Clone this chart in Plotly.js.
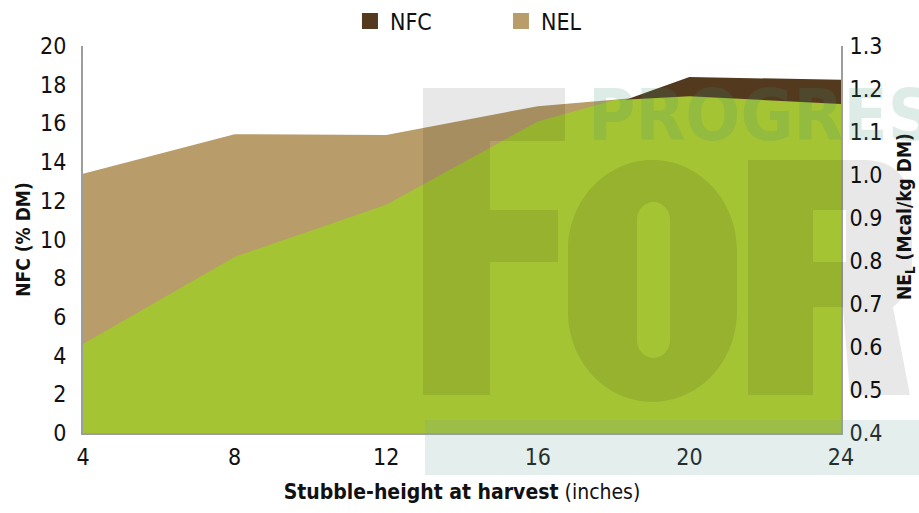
<!DOCTYPE html>
<html>
<head>
<meta charset="utf-8">
<script src="https://cdn.plot.ly/plotly-3.0.1.min.js"></script>
<style>
  html, body { margin: 0; padding: 0; background: #ffffff; }
  #chart { width: 919px; height: 513px; }
</style>
</head>
<body>
<div id="chart"></div>
<script>
// ---- data ----
const heights = [4, 8, 12, 16, 20, 24];                 // stubble height (inches)
const nfcValues = [4.0, 8.5, 11.3, 15.6, 18.4, 18.25];  // NFC (% DM)
const nelValues = [1.003, 1.095, 1.093, 1.16, 1.19, 1.19]; // NEL (Mcal/kg DM)
const greenHeights = [4, 8, 12, 16, 18, 20, 24];
const greenValues = [4.6, 9.1, 11.8, 16.1, 17.2, 17.4, 17.0];
const xTicks = [4, 8, 12, 16, 20, 24];
const nfcTicks = [0, 2, 4, 6, 8, 10, 12, 14, 16, 18, 20];
const nelTicks = [0.4, 0.5, 0.6, 0.7, 0.8, 0.9, 1.0, 1.1, 1.2, 1.3];

// ---- styling ----
const FONT = '"Liberation Sans Narrow", "Arial Narrow", "DejaVu Sans Condensed", sans-serif';
const C_NFC = '#533a1e';
const C_NEL = '#b89d6a';
const C_GREEN = '#a5c434';
const AXIS = '#9d9d9d';

const M = {l: 83, r: 78, t: 46, b: 80, autoexpand: false};
const PW = 919 - M.l - M.r, PH = 513 - M.t - M.b;
const X = px => ((px - M.l) / PW).toFixed(4);
const Y = py => ((M.t + PH - py) / PH).toFixed(4);
const P = (x, y) => X(x) + ',' + Y(y);
const poly = pts => 'M' + pts.map(p => P(p[0], p[1])).join('L') + 'Z';

function stadium(x0, x1, y0, y1) {
  const cx = (x0 + x1) / 2, rx = (x1 - x0) / 2, ry = rx * 1.07, k = 0.5523;
  const yt = y0 + ry, yb = y1 - ry;
  return 'M' + P(x0, yt) +
    'C' + P(x0, yt - k * ry) + ' ' + P(cx - k * rx, y0) + ' ' + P(cx, y0) +
    'C' + P(cx + k * rx, y0) + ' ' + P(x1, yt - k * ry) + ' ' + P(x1, yt) +
    'L' + P(x1, yb) +
    'C' + P(x1, yb + k * ry) + ' ' + P(cx + k * rx, y1) + ' ' + P(cx, y1) +
    'C' + P(cx - k * rx, y1) + ' ' + P(x0, yb + k * ry) + ' ' + P(x0, yb) + 'Z';
}

const GREY = 'rgba(0,0,0,0.09)';
const shapes = [
  // watermark "F"
  {type: 'path', xref: 'paper', yref: 'paper', layer: 'above', line: {width: 0}, fillcolor: GREY,
   path: poly([[423, 88], [565, 88], [565, 141], [490, 141], [490, 210], [558, 210], [558, 262], [490, 262], [490, 395], [423, 395]])},
  // watermark "O"
  {type: 'path', xref: 'paper', yref: 'paper', layer: 'above', line: {width: 0}, fillcolor: GREY, fillrule: 'evenodd',
   path: stadium(568, 737, 160, 402) + stadium(637, 670, 202, 358)},
  // watermark "R"
  {type: 'path', xref: 'paper', yref: 'paper', layer: 'above', line: {width: 0}, fillcolor: GREY, fillrule: 'evenodd',
   path: 'M' + P(748, 160) + 'L' + P(865, 160) + 'C' + P(895, 160) + ' ' + P(912, 180) + ' ' + P(912, 210) +
         'L' + P(912, 262) + 'C' + P(912, 285) + ' ' + P(905, 298) + ' ' + P(893, 307) +
         'L' + P(910, 395) + 'L' + P(850, 395) + 'L' + P(843, 307) + 'L' + P(813, 307) +
         'L' + P(813, 395) + 'L' + P(748, 395) + 'Z' +
         poly([[813, 210], [846, 210], [846, 262], [813, 262]])},
  // watermark band
  {type: 'rect', xref: 'paper', yref: 'paper', layer: 'above', line: {width: 0},
   fillcolor: 'rgba(120,170,160,0.2)', x0: X(425), x1: X(919), y0: Y(475), y1: Y(420)}
];

const traces = [
  {type: 'scatter', mode: 'lines', x: heights, y: nelValues, yaxis: 'y', name: 'NEL',
   fill: 'tozeroy', fillcolor: C_NEL, line: {width: 0, color: C_NEL}, showlegend: false},
  {type: 'scatter', mode: 'lines', x: heights, y: nfcValues, yaxis: 'y2', name: 'NFC',
   fill: 'tozeroy', fillcolor: C_NFC, line: {width: 0, color: C_NFC}, showlegend: false},
  {type: 'scatter', mode: 'lines', x: greenHeights, y: greenValues, yaxis: 'y2', name: 'NFC area',
   fill: 'tozeroy', fillcolor: C_GREEN, line: {width: 0, color: C_GREEN}, showlegend: false},
  // legend entries
  {type: 'scatter', mode: 'markers', x: [null], y: [null], yaxis: 'y2', name: 'NFC',
   marker: {symbol: 'square', size: 22, color: C_NFC}, legendrank: 1},
  {type: 'scatter', mode: 'markers', x: [null], y: [null], yaxis: 'y2', name: 'NEL',
   marker: {symbol: 'square', size: 22, color: C_NEL}, legendrank: 2}
];

const tickFont = {family: FONT, size: 23, color: '#111111'};

const layout = {
  width: 919, height: 513,
  margin: M,
  paper_bgcolor: '#ffffff', plot_bgcolor: 'rgba(0,0,0,0)',
  font: {family: FONT, color: '#111111'},
  showlegend: true,
  legend: {orientation: 'h', x: X(350), y: Y(21), xanchor: 'left', yanchor: 'middle',
           font: {family: FONT, size: 23, color: '#111111'}, entrywidth: 106, entrywidthmode: 'pixels',
           bgcolor: 'rgba(0,0,0,0)'},
  xaxis: {range: [4, 24], tickvals: xTicks, ticktext: xTicks.map(String), showgrid: false, zeroline: false,
          showline: true, linecolor: AXIS, linewidth: 2, ticks: '', tickfont: tickFont, ticklabelstandoff: 2,
          title: {text: '<b>Stubble-height at harvest</b> (inches)', font: {family: FONT, size: 21, color: '#111111'}, standoff: 16}},
  yaxis: {side: 'right', range: [0.4, 1.3], tickvals: nelTicks, ticktext: nelTicks.map(v => v.toFixed(1)),
          showgrid: false, zeroline: false, showline: true, linecolor: AXIS, linewidth: 2, ticks: '',
          tickfont: tickFont, ticklabelstandoff: 2},
  yaxis2: {overlaying: 'y', side: 'left', range: [0, 20], tickvals: nfcTicks, ticktext: nfcTicks.map(String),
           showgrid: false, zeroline: false, showline: true, linecolor: AXIS, linewidth: 2, ticks: '',
           tickfont: tickFont, ticklabelstandoff: 10,
           title: {text: '<b>NFC (% DM)</b>', font: {family: FONT, size: 19, color: '#111111'}, standoff: 4}},
  shapes: shapes,
  annotations: [
    {xref: 'paper', yref: 'paper', x: X(905), y: Y(216), text: '<b>NE<sub>L</sub> (Mcal/kg DM)</b>',
     textangle: -90, showarrow: false, font: {family: FONT, size: 19, color: '#111111'}, xanchor: 'center', yanchor: 'middle'},
    {xref: 'paper', yref: 'paper', x: X(586), y: Y(115), text: '<b>PROGRESSIVE</b>', showarrow: false,
     xanchor: 'left', yanchor: 'middle', font: {family: FONT, size: 72, color: 'rgba(60,140,120,0.17)'}}
  ]
};

Plotly.newPlot('chart', traces, layout, {displayModeBar: false, staticPlot: true});
</script>
</body>
</html>
